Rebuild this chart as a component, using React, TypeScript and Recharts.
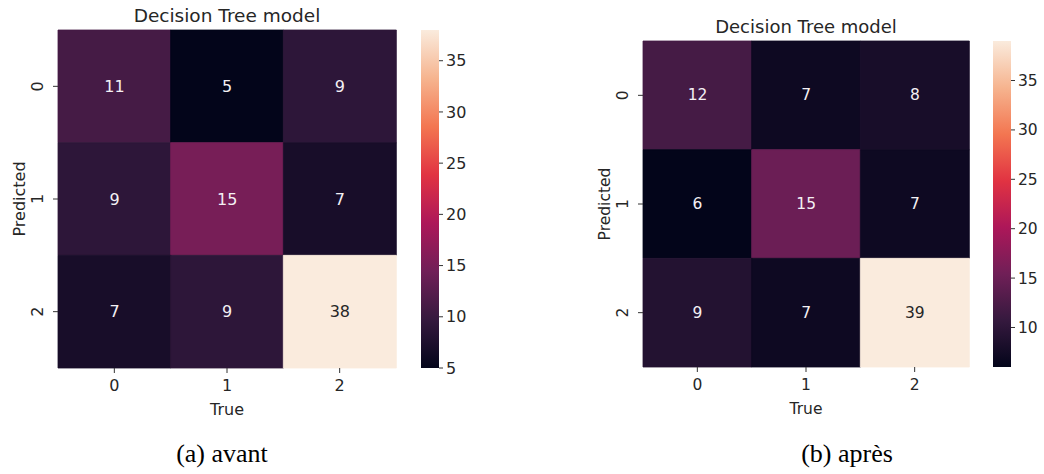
import React from "react";
import { BarChart, Bar, XAxis, YAxis, Cell, LabelList } from "recharts";

const classLabels = ["0", "1", "2"];

// rows = predicted class, columns = true class
const avantCounts = [
  [11, 5, 9],
  [9, 15, 7],
  [7, 9, 38],
];
const apresCounts = [
  [12, 7, 8],
  [6, 15, 7],
  [9, 7, 39],
];

const avantScaleTicks = [5, 10, 15, 20, 25, 30, 35];
const apresScaleTicks = [10, 15, 20, 25, 30, 35];

// seaborn "rocket" colormap sampled at 0, 1/7, ..., 1
const rocketStops = ["#03051a", "#35193e", "#701f57", "#ad1759", "#e13342", "#f37651", "#f6b48f", "#faebdd"];

const TEXT = "#262626";
const SANS = "'DejaVu Sans', sans-serif";

function hexToRgb(h: string) {
  const n = parseInt(h.slice(1), 16);
  return [(n >> 16) & 255, (n >> 8) & 255, n & 255];
}

function rocket(t: number) {
  const c = Math.min(1, Math.max(0, t)) * (rocketStops.length - 1);
  const i = Math.min(Math.floor(c), rocketStops.length - 2);
  const f = c - i;
  const a = hexToRgb(rocketStops[i]);
  const b = hexToRgb(rocketStops[i + 1]);
  return `rgb(${a.map((v, k) => Math.round(v + (b[k] - v) * f)).join(",")})`;
}

function luminance(t: number) {
  const m = rocket(t).match(/\d+/g)!.map((v) => {
    const c = Number(v) / 255;
    return c <= 0.03928 ? c / 12.92 : Math.pow((c + 0.055) / 1.055, 2.4);
  });
  return 0.2126 * m[0] + 0.7152 * m[1] + 0.0722 * m[2];
}

interface PanelProps {
  id: string;
  counts: number[][];
  scaleTicks: number[];
  caption: string;
  captionX: number;
  chartLeft: number;
  plotTop: number;
  plotSize: number;
  barLeft: number;
  fontSize: number;
  titleSize: number;
}

function ConfusionPanel({
  id, counts, scaleTicks, caption, captionX, chartLeft, plotTop, plotSize, barLeft, fontSize, titleSize,
}: PanelProps) {
  const flat = counts.flat();
  const vmin = Math.min(...flat);
  const vmax = Math.max(...flat);
  const norm = (v: number) => (v - vmin) / (vmax - vmin);

  // one entry per true class, one stacked segment per predicted class
  const data = classLabels.map((label, col) => ({
    trueClass: label,
    p0: counts[0][col],
    p1: counts[1][col],
    p2: counts[2][col],
  }));

  const axisW = 58;
  const width = axisW + plotSize + 4;
  const height = plotTop + plotSize + 62;
  const plotCenterX = chartLeft + axisW + plotSize / 2;
  const plotCenterY = plotTop + plotSize / 2;

  const cellLabel = (props: any) => {
    const { x, y, width: w, height: h, value } = props;
    const dark = luminance(norm(value)) > 0.408;
    return (
      <text
        x={x + w / 2}
        y={y + h / 2}
        textAnchor="middle"
        dominantBaseline="central"
        fontSize={fontSize}
        fontFamily={SANS}
        fill={dark ? TEXT : "#f4f0f4"}
      >
        {value}
      </text>
    );
  };

  const rotatedTick = (props: any) => {
    const { x, y, payload } = props;
    return (
      <text
        transform={`translate(${x},${y}) rotate(-90)`}
        textAnchor="middle"
        fontSize={fontSize}
        fontFamily={SANS}
        fill={TEXT}
      >
        {classLabels[Math.floor(payload.value)]}
      </text>
    );
  };

  const rows = ["p0", "p1", "p2"];

  return (
    <>
      <div style={{ position: "absolute", left: chartLeft, top: 0 }}>
        <BarChart
          width={width}
          height={height}
          data={data}
          barCategoryGap={0}
          margin={{ top: plotTop, right: 4, bottom: 12, left: 0 }}
        >
          <XAxis
            dataKey="trueClass"
            height={50}
            axisLine={false}
            tickSize={5}
            tickMargin={7}
            tickLine={{ stroke: "#333" }}
            tick={{ fontSize, fontFamily: SANS, fill: TEXT }}
          />
          <YAxis
            type="number"
            domain={[0, 3]}
            reversed
            width={axisW}
            ticks={[0.5, 1.5, 2.5]}
            axisLine={false}
            tickSize={5}
            tickMargin={10}
            tickLine={{ stroke: "#333" }}
            tick={rotatedTick}
          />
          {rows.map((key, r) => (
            <Bar key={key} dataKey={() => 1} stackId="cells" isAnimationActive={false}>
              {data.map((d, c) => {
                const color = rocket(norm(counts[r][c]));
                return <Cell key={c} fill={color} stroke={color} strokeWidth={0.8} />;
              })}
              <LabelList dataKey={key} content={cellLabel} />
            </Bar>
          ))}
        </BarChart>
      </div>

      <div style={{ position: "absolute", left: barLeft, top: plotTop - 10 }}>
        <BarChart
          width={58}
          height={plotSize + 20}
          data={[{ name: "scale", range: [vmin, vmax] }]}
          barCategoryGap={0}
          margin={{ top: 10, right: 0, bottom: 10, left: 0 }}
        >
          <defs>
            <linearGradient id={`${id}-rocket`} x1="0" y1="1" x2="0" y2="0">
              {rocketStops.map((c, i) => (
                <stop key={i} offset={i / (rocketStops.length - 1)} stopColor={c} />
              ))}
            </linearGradient>
          </defs>
          <XAxis dataKey="name" hide />
          <YAxis
            type="number"
            orientation="right"
            domain={[vmin, vmax]}
            ticks={scaleTicks}
            width={40}
            axisLine={false}
            tickSize={4}
            tickMargin={3}
            tickLine={{ stroke: "#333" }}
            tick={{ fontSize, fontFamily: SANS, fill: TEXT }}
          />
          <Bar dataKey="range" fill={`url(#${id}-rocket)`} isAnimationActive={false} />
        </BarChart>
      </div>

      <svg
        width={1044}
        height={474}
        style={{ position: "absolute", left: 0, top: 0, pointerEvents: "none" }}
      >
        <text x={plotCenterX} y={plotTop - 8} textAnchor="middle" fontSize={titleSize} fontFamily={SANS} fill={TEXT}>
          Decision Tree model
        </text>
        <text x={plotCenterX} y={plotTop + plotSize + 47} textAnchor="middle" fontSize={fontSize} fontFamily={SANS} fill={TEXT}>
          True
        </text>
        <text
          transform={`translate(${chartLeft + 25},${plotCenterY}) rotate(-90)`}
          textAnchor="middle"
          fontSize={fontSize}
          fontFamily={SANS}
          fill={TEXT}
        >
          Predicted
        </text>
        <text x={captionX} y={462} textAnchor="middle" fontSize={26} fontFamily="'Liberation Serif', serif" fill="#000">
          {caption}
        </text>
      </svg>
    </>
  );
}

export default function App() {
  return (
    <div
      style={{
        position: "absolute",
        left: 0,
        top: 0,
        width: 1044,
        height: 474,
        overflow: "hidden",
        background: "#fff",
      }}
    >
      <ConfusionPanel
        id="avant"
        counts={avantCounts}
        scaleTicks={avantScaleTicks}
        caption="(a) avant"
        captionX={222}
        chartLeft={0}
        plotTop={30}
        plotSize={338}
        barLeft={421}
        fontSize={16}
        titleSize={18.5}
      />
      <ConfusionPanel
        id="apres"
        counts={apresCounts}
        scaleTicks={apresScaleTicks}
        caption="(b) après"
        captionX={847}
        chartLeft={585}
        plotTop={41}
        plotSize={326}
        barLeft={993}
        fontSize={15.5}
        titleSize={18}
      />
    </div>
  );
}
